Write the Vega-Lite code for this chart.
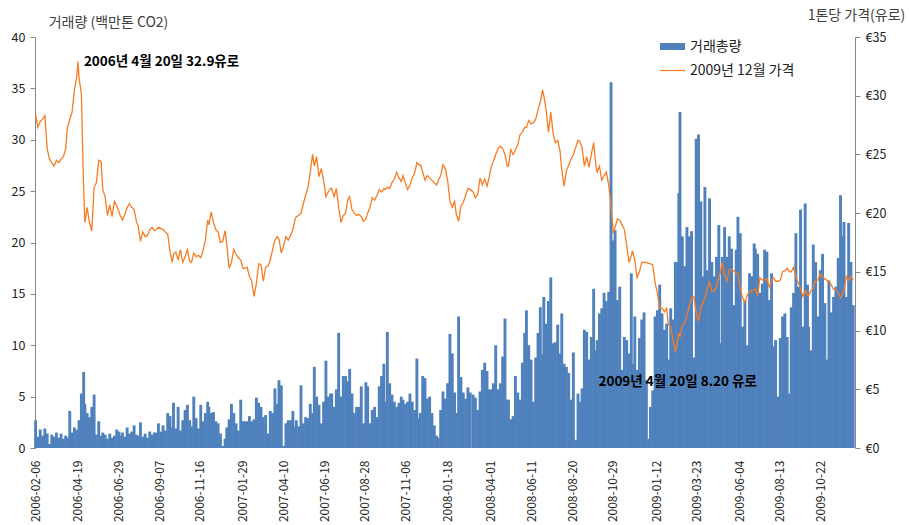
{
"$schema":"https://vega.github.io/schema/vega-lite/v6.json",
"width":820,"height":411,
"autosize":{"type":"none"},
"padding":{"left":35,"top":37,"right":54,"bottom":77},
"background":"white",
"config":{"view":{"stroke":null},"font":"Noto Sans CJK KR"},
"data":{"values":[
{"d":"2006-02-06","v":2.7,"p":28.4},{"d":"2006-02-10","v":1.1,"p":27.3},{"d":"2006-02-14","v":1.8,"p":27.8},{"d":"2006-02-18","v":1.2,"p":28.0},{"d":"2006-02-22","v":1.9,"p":28.3},{"d":"2006-02-26","v":1.4,"p":25.5},
{"d":"2006-03-02","v":0.4,"p":24.6},{"d":"2006-03-06","v":1.3,"p":24.3},{"d":"2006-03-10","v":1.1,"p":24.0},{"d":"2006-03-14","v":1.5,"p":24.5},{"d":"2006-03-18","v":1.0,"p":24.3},{"d":"2006-03-22","v":1.4,"p":24.6},{"d":"2006-03-26","v":0.9,"p":24.8},{"d":"2006-03-30","v":1.2,"p":25.5},
{"d":"2006-04-02","v":1.0,"p":27.3},{"d":"2006-04-06","v":3.6,"p":28.0},{"d":"2006-04-10","v":1.5,"p":28.6},{"d":"2006-04-14","v":2.0,"p":30.5},{"d":"2006-04-18","v":1.7,"p":31.6},{"d":"2006-04-20","v":1.8,"p":32.9},{"d":"2006-04-22","v":2.7,"p":31.5},{"d":"2006-04-26","v":5.3,"p":30.2},{"d":"2006-04-30","v":7.4,"p":22.0},
{"d":"2006-05-02","v":4.3,"p":19.2},{"d":"2006-05-06","v":3.4,"p":20.5},{"d":"2006-05-10","v":3.0,"p":19.2},{"d":"2006-05-14","v":4.0,"p":18.5},{"d":"2006-05-18","v":5.2,"p":22.2},{"d":"2006-05-22","v":1.3,"p":22.6},{"d":"2006-05-26","v":2.6,"p":24.5},{"d":"2006-05-30","v":1.2,"p":24.4},
{"d":"2006-06-02","v":1.5,"p":22.0},{"d":"2006-06-06","v":1.3,"p":21.4},{"d":"2006-06-10","v":0.9,"p":19.8},{"d":"2006-06-14","v":1.4,"p":20.7},{"d":"2006-06-18","v":1.0,"p":19.7},{"d":"2006-06-22","v":1.2,"p":21.0},{"d":"2006-06-26","v":1.8,"p":20.6},{"d":"2006-06-30","v":1.6,"p":20.1},
{"d":"2006-07-02","v":1.2,"p":19.8},{"d":"2006-07-06","v":1.5,"p":19.4},{"d":"2006-07-10","v":1.1,"p":19.9},{"d":"2006-07-14","v":2.0,"p":20.5},{"d":"2006-07-18","v":1.4,"p":20.8},{"d":"2006-07-22","v":1.6,"p":20.5},{"d":"2006-07-26","v":2.2,"p":20.3},{"d":"2006-07-30","v":1.3,"p":19.3},
{"d":"2006-08-02","v":1.2,"p":18.9},{"d":"2006-08-06","v":2.5,"p":17.6},{"d":"2006-08-10","v":1.1,"p":18.4},{"d":"2006-08-14","v":1.4,"p":18.0},{"d":"2006-08-18","v":1.0,"p":18.1},{"d":"2006-08-22","v":1.6,"p":18.6},{"d":"2006-08-26","v":1.3,"p":18.8},{"d":"2006-08-30","v":1.5,"p":18.5},
{"d":"2006-09-02","v":1.5,"p":18.6},{"d":"2006-09-06","v":2.4,"p":18.8},{"d":"2006-09-10","v":1.6,"p":18.7},{"d":"2006-09-14","v":2.2,"p":18.6},{"d":"2006-09-18","v":1.7,"p":18.4},{"d":"2006-09-22","v":3.4,"p":18.2},{"d":"2006-09-26","v":3.1,"p":16.7},{"d":"2006-09-30","v":2.0,"p":15.8},
{"d":"2006-10-02","v":4.4,"p":16.5},{"d":"2006-10-06","v":1.9,"p":16.7},{"d":"2006-10-10","v":4.0,"p":16.0},{"d":"2006-10-14","v":1.7,"p":16.9},{"d":"2006-10-18","v":2.7,"p":15.8},{"d":"2006-10-22","v":3.7,"p":16.3},{"d":"2006-10-26","v":4.2,"p":16.9},{"d":"2006-10-30","v":2.7,"p":15.9},
{"d":"2006-11-02","v":2.1,"p":15.8},{"d":"2006-11-06","v":5.0,"p":16.6},{"d":"2006-11-10","v":2.9,"p":16.3},{"d":"2006-11-14","v":1.9,"p":16.4},{"d":"2006-11-18","v":4.2,"p":16.2},{"d":"2006-11-22","v":2.6,"p":16.8},{"d":"2006-11-26","v":3.4,"p":17.7},{"d":"2006-11-30","v":4.5,"p":19.4},
{"d":"2006-12-02","v":4.0,"p":19.0},{"d":"2006-12-06","v":3.4,"p":20.1},{"d":"2006-12-10","v":3.5,"p":19.2},{"d":"2006-12-14","v":2.6,"p":18.6},{"d":"2006-12-18","v":2.4,"p":18.4},{"d":"2006-12-22","v":1.4,"p":17.5},{"d":"2006-12-26","v":0.2,"p":17.6},{"d":"2006-12-30","v":0.9,"p":18.5},
{"d":"2007-01-02","v":2.0,"p":17.3},{"d":"2007-01-06","v":2.8,"p":15.3},{"d":"2007-01-10","v":4.3,"p":15.8},{"d":"2007-01-14","v":3.4,"p":16.9},{"d":"2007-01-18","v":2.4,"p":16.5},{"d":"2007-01-22","v":1.7,"p":16.2},{"d":"2007-01-26","v":4.7,"p":16.0},{"d":"2007-01-30","v":2.6,"p":15.3},
{"d":"2007-02-02","v":2.6,"p":15.3},{"d":"2007-02-06","v":2.6,"p":15.4},{"d":"2007-02-10","v":3.1,"p":14.6},{"d":"2007-02-14","v":2.6,"p":14.2},{"d":"2007-02-18","v":2.8,"p":12.9},{"d":"2007-02-22","v":4.9,"p":14.0},{"d":"2007-02-26","v":4.4,"p":15.7},
{"d":"2007-03-02","v":4.0,"p":15.6},{"d":"2007-03-06","v":3.0,"p":14.2},{"d":"2007-03-10","v":3.2,"p":15.4},{"d":"2007-03-14","v":1.4,"p":15.5},{"d":"2007-03-18","v":3.6,"p":16.0},{"d":"2007-03-22","v":3.4,"p":16.9},{"d":"2007-03-26","v":5.8,"p":17.7},{"d":"2007-03-30","v":4.3,"p":18.0},
{"d":"2007-04-02","v":6.6,"p":17.8},{"d":"2007-04-06","v":6.1,"p":16.6},{"d":"2007-04-10","v":0.2,"p":17.2},{"d":"2007-04-14","v":2.4,"p":18.0},{"d":"2007-04-18","v":2.7,"p":17.7},{"d":"2007-04-22","v":2.7,"p":18.1},{"d":"2007-04-26","v":3.6,"p":18.6},{"d":"2007-04-30","v":2.1,"p":19.5},
{"d":"2007-05-02","v":2.7,"p":19.7},{"d":"2007-05-06","v":2.1,"p":19.8},{"d":"2007-05-10","v":6.1,"p":20.0},{"d":"2007-05-14","v":2.4,"p":20.8},{"d":"2007-05-18","v":3.0,"p":21.5},{"d":"2007-05-22","v":2.9,"p":22.2},{"d":"2007-05-26","v":4.3,"p":23.5},{"d":"2007-05-30","v":3.4,"p":25.0},
{"d":"2007-06-02","v":7.9,"p":24.0},{"d":"2007-06-06","v":5.0,"p":24.8},{"d":"2007-06-10","v":4.2,"p":23.1},{"d":"2007-06-14","v":2.4,"p":23.8},{"d":"2007-06-18","v":4.5,"p":22.8},{"d":"2007-06-22","v":8.5,"p":21.4},{"d":"2007-06-26","v":5.0,"p":21.8},{"d":"2007-06-30","v":5.3,"p":22.1},
{"d":"2007-07-02","v":5.3,"p":22.1},{"d":"2007-07-06","v":4.0,"p":21.4},{"d":"2007-07-10","v":5.7,"p":22.1},{"d":"2007-07-14","v":11.2,"p":20.5},{"d":"2007-07-18","v":5.0,"p":19.2},{"d":"2007-07-22","v":7.0,"p":19.8},{"d":"2007-07-26","v":7.0,"p":20.0},{"d":"2007-07-30","v":6.5,"p":21.2},
{"d":"2007-08-02","v":7.7,"p":21.4},{"d":"2007-08-06","v":5.3,"p":20.3},{"d":"2007-08-10","v":3.4,"p":20.0},{"d":"2007-08-14","v":4.0,"p":19.8},{"d":"2007-08-18","v":4.0,"p":19.9},{"d":"2007-08-22","v":6.0,"p":19.7},{"d":"2007-08-26","v":2.4,"p":19.3},{"d":"2007-08-30","v":6.4,"p":19.5},
{"d":"2007-09-02","v":6.0,"p":20.0},{"d":"2007-09-06","v":2.4,"p":20.5},{"d":"2007-09-10","v":3.7,"p":21.3},{"d":"2007-09-14","v":4.0,"p":21.1},{"d":"2007-09-18","v":3.0,"p":21.5},{"d":"2007-09-22","v":6.0,"p":22.0},{"d":"2007-09-26","v":7.0,"p":21.8},{"d":"2007-09-30","v":8.2,"p":22.1},
{"d":"2007-10-02","v":4.5,"p":22.0},{"d":"2007-10-06","v":11.3,"p":22.2},{"d":"2007-10-10","v":6.3,"p":22.1},{"d":"2007-10-14","v":5.2,"p":22.6},{"d":"2007-10-18","v":4.5,"p":22.9},{"d":"2007-10-22","v":4.0,"p":23.5},{"d":"2007-10-26","v":4.4,"p":23.0},{"d":"2007-10-30","v":5.0,"p":22.7},
{"d":"2007-11-02","v":4.7,"p":23.2},{"d":"2007-11-06","v":4.3,"p":22.6},{"d":"2007-11-10","v":4.5,"p":22.0},{"d":"2007-11-14","v":5.3,"p":22.4},{"d":"2007-11-18","v":4.5,"p":23.0},{"d":"2007-11-22","v":3.7,"p":23.4},{"d":"2007-11-26","v":8.7,"p":24.3},{"d":"2007-11-30","v":2.9,"p":24.1},
{"d":"2007-12-02","v":3.4,"p":24.1},{"d":"2007-12-06","v":7.0,"p":23.5},{"d":"2007-12-10","v":6.8,"p":22.8},{"d":"2007-12-14","v":4.8,"p":23.2},{"d":"2007-12-18","v":5.0,"p":23.0},{"d":"2007-12-22","v":3.4,"p":22.8},{"d":"2007-12-26","v":2.2,"p":22.6},{"d":"2007-12-30","v":1.2,"p":22.4},
{"d":"2008-01-02","v":1.0,"p":22.8},{"d":"2008-01-06","v":3.7,"p":23.2},{"d":"2008-01-10","v":5.5,"p":24.1},{"d":"2008-01-14","v":4.8,"p":23.8},{"d":"2008-01-18","v":6.3,"p":22.8},{"d":"2008-01-22","v":11.1,"p":21.0},{"d":"2008-01-26","v":9.2,"p":20.5},{"d":"2008-01-30","v":5.4,"p":21.0},
{"d":"2008-02-02","v":3.4,"p":19.9},{"d":"2008-02-06","v":12.8,"p":19.3},{"d":"2008-02-10","v":6.9,"p":20.6},{"d":"2008-02-14","v":5.4,"p":20.9},{"d":"2008-02-18","v":4.8,"p":21.5},{"d":"2008-02-22","v":5.9,"p":22.1},{"d":"2008-02-26","v":5.4,"p":22.0},
{"d":"2008-03-02","v":5.2,"p":21.8},{"d":"2008-03-06","v":4.9,"p":21.3},{"d":"2008-03-10","v":3.7,"p":21.6},{"d":"2008-03-14","v":5.5,"p":23.0},{"d":"2008-03-18","v":7.6,"p":22.4},{"d":"2008-03-22","v":8.3,"p":22.9},{"d":"2008-03-26","v":7.5,"p":22.3},{"d":"2008-03-30","v":5.7,"p":23.1},
{"d":"2008-04-02","v":5.7,"p":23.9},{"d":"2008-04-06","v":6.3,"p":24.4},{"d":"2008-04-10","v":10.0,"p":25.0},{"d":"2008-04-14","v":5.7,"p":25.5},{"d":"2008-04-18","v":6.3,"p":25.7},{"d":"2008-04-22","v":8.9,"p":25.5},{"d":"2008-04-26","v":12.6,"p":25.0},{"d":"2008-04-30","v":4.7,"p":24.0},
{"d":"2008-05-02","v":4.7,"p":24.0},{"d":"2008-05-06","v":2.8,"p":25.4},{"d":"2008-05-10","v":3.1,"p":25.0},{"d":"2008-05-14","v":7.0,"p":25.4},{"d":"2008-05-18","v":5.4,"p":25.8},{"d":"2008-05-22","v":4.7,"p":26.7},{"d":"2008-05-26","v":8.3,"p":26.9},{"d":"2008-05-30","v":11.2,"p":27.3},
{"d":"2008-06-02","v":13.4,"p":27.3},{"d":"2008-06-06","v":10.0,"p":27.9},{"d":"2008-06-10","v":8.6,"p":27.6},{"d":"2008-06-14","v":4.5,"p":27.7},{"d":"2008-06-18","v":8.8,"p":28.0},{"d":"2008-06-22","v":11.2,"p":28.8},{"d":"2008-06-26","v":13.7,"p":29.5},{"d":"2008-06-30","v":9.1,"p":30.5},
{"d":"2008-07-02","v":14.7,"p":30.0},{"d":"2008-07-06","v":12.1,"p":28.8},{"d":"2008-07-10","v":14.3,"p":26.9},{"d":"2008-07-14","v":16.6,"p":28.6},{"d":"2008-07-18","v":10.2,"p":26.8},{"d":"2008-07-22","v":10.3,"p":26.0},{"d":"2008-07-26","v":12.0,"p":26.2},{"d":"2008-07-30","v":9.2,"p":25.3},
{"d":"2008-08-02","v":13.1,"p":23.7},{"d":"2008-08-06","v":8.2,"p":22.3},{"d":"2008-08-10","v":7.9,"p":23.6},{"d":"2008-08-14","v":7.3,"p":24.1},{"d":"2008-08-18","v":4.7,"p":24.6},{"d":"2008-08-22","v":9.3,"p":25.0},{"d":"2008-08-26","v":0.8,"p":25.6},{"d":"2008-08-30","v":5.3,"p":26.2},
{"d":"2008-09-02","v":4.5,"p":26.1},{"d":"2008-09-06","v":5.8,"p":25.6},{"d":"2008-09-10","v":11.5,"p":24.0},{"d":"2008-09-14","v":11.3,"p":24.8},{"d":"2008-09-18","v":8.6,"p":23.9},{"d":"2008-09-22","v":10.8,"p":25.0},{"d":"2008-09-26","v":15.5,"p":26.0},{"d":"2008-09-30","v":9.5,"p":24.0},
{"d":"2008-10-02","v":10.5,"p":23.5},{"d":"2008-10-06","v":13.1,"p":24.0},{"d":"2008-10-10","v":13.6,"p":22.8},{"d":"2008-10-14","v":15.1,"p":23.2},{"d":"2008-10-18","v":14.3,"p":23.5},{"d":"2008-10-22","v":15.2,"p":22.4},{"d":"2008-10-26","v":35.6,"p":20.6},{"d":"2008-10-30","v":20.2,"p":18.3},
{"d":"2008-11-02","v":21.2,"p":18.8},{"d":"2008-11-06","v":14.4,"p":19.5},{"d":"2008-11-10","v":15.7,"p":19.4},{"d":"2008-11-14","v":7.6,"p":19.0},{"d":"2008-11-18","v":10.8,"p":18.6},{"d":"2008-11-22","v":10.5,"p":17.3},{"d":"2008-11-26","v":9.2,"p":15.8},{"d":"2008-11-30","v":17.0,"p":16.4},
{"d":"2008-12-02","v":8.2,"p":16.8},{"d":"2008-12-06","v":12.8,"p":16.0},{"d":"2008-12-10","v":7.6,"p":14.5},{"d":"2008-12-14","v":10.7,"p":15.0},{"d":"2008-12-18","v":12.5,"p":15.8},{"d":"2008-12-22","v":13.2,"p":15.8},{"d":"2008-12-26","v":6.6,"p":15.8},{"d":"2008-12-30","v":0.9,"p":15.7},
{"d":"2009-01-02","v":4.0,"p":15.7},{"d":"2009-01-06","v":5.6,"p":15.6},{"d":"2009-01-10","v":12.8,"p":14.1},{"d":"2009-01-14","v":13.4,"p":13.2},{"d":"2009-01-18","v":15.9,"p":11.9},{"d":"2009-01-22","v":13.1,"p":11.9},{"d":"2009-01-26","v":11.5,"p":11.6},{"d":"2009-01-30","v":12.1,"p":11.9},
{"d":"2009-02-02","v":8.6,"p":10.5},{"d":"2009-02-06","v":13.6,"p":10.3},{"d":"2009-02-10","v":12.5,"p":9.2},{"d":"2009-02-14","v":18.1,"p":8.2},{"d":"2009-02-18","v":18.1,"p":9.2},{"d":"2009-02-20","v":24.8,"p":9.8},{"d":"2009-02-22","v":32.7,"p":9.5},{"d":"2009-02-26","v":20.6,"p":10.5},
{"d":"2009-03-02","v":17.7,"p":10.6},{"d":"2009-03-06","v":21.5,"p":11.3},{"d":"2009-03-10","v":20.6,"p":12.1},{"d":"2009-03-14","v":21.1,"p":12.8},{"d":"2009-03-18","v":8.8,"p":12.9},{"d":"2009-03-22","v":30.1,"p":11.5},{"d":"2009-03-26","v":30.5,"p":10.8},{"d":"2009-03-30","v":24.0,"p":12.0},
{"d":"2009-04-02","v":16.7,"p":12.3},{"d":"2009-04-06","v":25.4,"p":12.8},{"d":"2009-04-10","v":17.3,"p":13.6},{"d":"2009-04-14","v":24.3,"p":14.1},{"d":"2009-04-18","v":18.1,"p":13.3},{"d":"2009-04-22","v":16.7,"p":13.4},{"d":"2009-04-26","v":18.6,"p":13.7},{"d":"2009-04-30","v":21.7,"p":14.5},
{"d":"2009-05-02","v":10.2,"p":14.8},{"d":"2009-05-06","v":18.6,"p":15.8},{"d":"2009-05-10","v":21.5,"p":14.8},{"d":"2009-05-14","v":18.6,"p":14.2},{"d":"2009-05-18","v":20.6,"p":15.2},{"d":"2009-05-22","v":19.4,"p":15.2},{"d":"2009-05-26","v":13.9,"p":15.1},{"d":"2009-05-30","v":19.3,"p":14.9},
{"d":"2009-06-02","v":22.5,"p":14.9},{"d":"2009-06-06","v":20.9,"p":13.6},{"d":"2009-06-10","v":11.8,"p":12.8},{"d":"2009-06-14","v":14.4,"p":12.4},{"d":"2009-06-18","v":10.0,"p":13.0},{"d":"2009-06-22","v":17.0,"p":13.3},{"d":"2009-06-26","v":16.7,"p":13.4},{"d":"2009-06-30","v":19.9,"p":13.5},
{"d":"2009-07-02","v":19.4,"p":13.5},{"d":"2009-07-06","v":18.9,"p":13.0},{"d":"2009-07-10","v":15.1,"p":14.5},{"d":"2009-07-14","v":16.0,"p":14.3},{"d":"2009-07-18","v":19.3,"p":14.3},{"d":"2009-07-22","v":19.1,"p":14.4},{"d":"2009-07-26","v":14.4,"p":13.7},{"d":"2009-07-30","v":17.0,"p":14.3},
{"d":"2009-08-02","v":9.9,"p":14.5},{"d":"2009-08-06","v":10.5,"p":14.2},{"d":"2009-08-10","v":5.0,"p":14.2},{"d":"2009-08-14","v":10.7,"p":14.3},{"d":"2009-08-18","v":12.8,"p":15.0},{"d":"2009-08-22","v":13.1,"p":15.1},{"d":"2009-08-26","v":10.8,"p":15.3},{"d":"2009-08-30","v":5.3,"p":15.0},
{"d":"2009-09-02","v":13.7,"p":15.0},{"d":"2009-09-06","v":15.1,"p":15.4},{"d":"2009-09-10","v":20.9,"p":14.6},{"d":"2009-09-14","v":15.7,"p":14.1},{"d":"2009-09-18","v":23.2,"p":13.6},{"d":"2009-09-22","v":11.8,"p":12.9},{"d":"2009-09-26","v":23.8,"p":13.4},{"d":"2009-09-30","v":15.9,"p":13.0},
{"d":"2009-10-02","v":11.8,"p":13.0},{"d":"2009-10-06","v":9.5,"p":13.4},{"d":"2009-10-10","v":19.8,"p":13.6},{"d":"2009-10-14","v":18.1,"p":14.3},{"d":"2009-10-18","v":12.8,"p":14.3},{"d":"2009-10-22","v":17.3,"p":14.8},{"d":"2009-10-26","v":18.9,"p":14.6},{"d":"2009-10-30","v":14.1,"p":14.4},
{"d":"2009-11-02","v":8.6,"p":14.3},{"d":"2009-11-06","v":16.3,"p":14.2},{"d":"2009-11-10","v":13.2,"p":13.9},{"d":"2009-11-14","v":14.7,"p":13.5},{"d":"2009-11-18","v":15.7,"p":13.5},{"d":"2009-11-22","v":18.5,"p":13.2},{"d":"2009-11-26","v":24.6,"p":12.8},{"d":"2009-11-30","v":20.6,"p":13.2},
{"d":"2009-12-02","v":22.0,"p":13.4},{"d":"2009-12-06","v":14.7,"p":14.6},{"d":"2009-12-10","v":21.9,"p":14.3},{"d":"2009-12-14","v":18.1,"p":14.6},{"d":"2009-12-18","v":13.9,"p":14.3}
]},
"encoding":{
 "x":{"field":"d","type":"temporal",
  "scale":{"type":"utc","padding":0,"domain":[{"year":2006,"month":2,"date":5,"utc":true},{"year":2009,"month":12,"date":21,"utc":true}]},
  "axis":{"title":null,"format":"%Y-%m-%d","labelAngle":-90,"labelFontSize":12,"labelColor":"#222","ticks":false,"domain":false,"grid":false,"labelPadding":12,"labelOverlap":false,
   "values":[{"year":2006,"month":2,"date":6,"utc":true},{"year":2006,"month":4,"date":19,"utc":true},{"year":2006,"month":6,"date":29,"utc":true},{"year":2006,"month":9,"date":7,"utc":true},{"year":2006,"month":11,"date":16,"utc":true},{"year":2007,"month":1,"date":29,"utc":true},{"year":2007,"month":4,"date":10,"utc":true},{"year":2007,"month":6,"date":19,"utc":true},{"year":2007,"month":8,"date":28,"utc":true},{"year":2007,"month":11,"date":6,"utc":true},{"year":2008,"month":1,"date":18,"utc":true},{"year":2008,"month":4,"date":1,"utc":true},{"year":2008,"month":6,"date":11,"utc":true},{"year":2008,"month":8,"date":20,"utc":true},{"year":2008,"month":10,"date":29,"utc":true},{"year":2009,"month":1,"date":12,"utc":true},{"year":2009,"month":3,"date":23,"utc":true},{"year":2009,"month":6,"date":4,"utc":true},{"year":2009,"month":8,"date":13,"utc":true},{"year":2009,"month":10,"date":22,"utc":true}]}}
},
"layer":[
 {"mark":{"type":"bar","width":2.9},
  "encoding":{
   "y":{"field":"v","type":"quantitative","scale":{"domain":[0,40],"nice":false},
    "axis":{"title":"거래량 (백만톤 CO2)","titleAngle":0,"titleX":73,"titleY":-15,"titleAlign":"center","titleBaseline":"middle","titleFontSize":14,"titleFontWeight":"normal","titleColor":"#404040","values":[0,5,10,15,20,25,30,35,40],"labelFontSize":12.5,"labelColor":"#222","tickSize":5,"tickColor":"#888","domainColor":"#888","grid":false,"labelPadding":5}},
   "color":{"datum":"거래총량","type":"nominal",
    "scale":{"domain":["거래총량","2009년 12월 가격"],"range":["#4F81BD","#F97B22"]},
    "legend":{"orient":"none","legendX":625,"legendY":-3,"title":null,"padding":0,"labelFontSize":14,"labelColor":"#222","labelOffset":5,"rowPadding":4,"symbolSize":625,"symbolStrokeWidth":0,"symbolOpacity":1,
     "encode":{"symbols":{"update":{"shape":{"signal":"datum.value === '거래총량' ? 'M-1,-0.28H1V0.28H-1Z' : 'M-1,-0.05H1V0.05H-1Z'"},"fill":{"scale":"color","field":"value"},"stroke":{"value":"transparent"}}}}}}
  }},
 {"layer":[
  {"mark":{"type":"line","strokeWidth":1.3},
   "encoding":{
    "y":{"field":"p","type":"quantitative","scale":{"domain":[0,35],"nice":false},
     "axis":{"orient":"right","title":"1톤당 가격(유로)","titleAngle":0,"titleX":1,"titleY":-22,"titleAlign":"center","titleBaseline":"middle","titleFontSize":14,"titleFontWeight":"normal","titleColor":"#404040","values":[0,5,10,15,20,25,30,35],"labelExpr":"'€' + datum.value","labelFontSize":12.5,"labelColor":"#222","tickSize":5,"tickColor":"#888","domainColor":"#888","grid":false,"labelPadding":5}},
    "color":{"datum":"2009년 12월 가격","type":"nominal"}
   }},
  {"data":{"values":[{"d":"2006-04-20","p":32.9,"t":"2006년 4월 20일 32.9유로"}]},
   "mark":{"type":"text","align":"left","baseline":"middle","dx":6,"fontSize":13.5,"fontWeight":"bold","color":"#000"},
   "encoding":{"y":{"field":"p","type":"quantitative"},"text":{"field":"t"}}},
  {"data":{"values":[{"d":"2009-02-18","p":8.2,"t":"2009년 4월 20일 8.20 유로"}]},
   "mark":{"type":"text","align":"center","baseline":"middle","dy":30,"fontSize":13.5,"fontWeight":"bold","color":"#000"},
   "encoding":{"y":{"field":"p","type":"quantitative"},"text":{"field":"t"}}}
 ]}
],
"resolve":{"scale":{"y":"independent"}}
}
